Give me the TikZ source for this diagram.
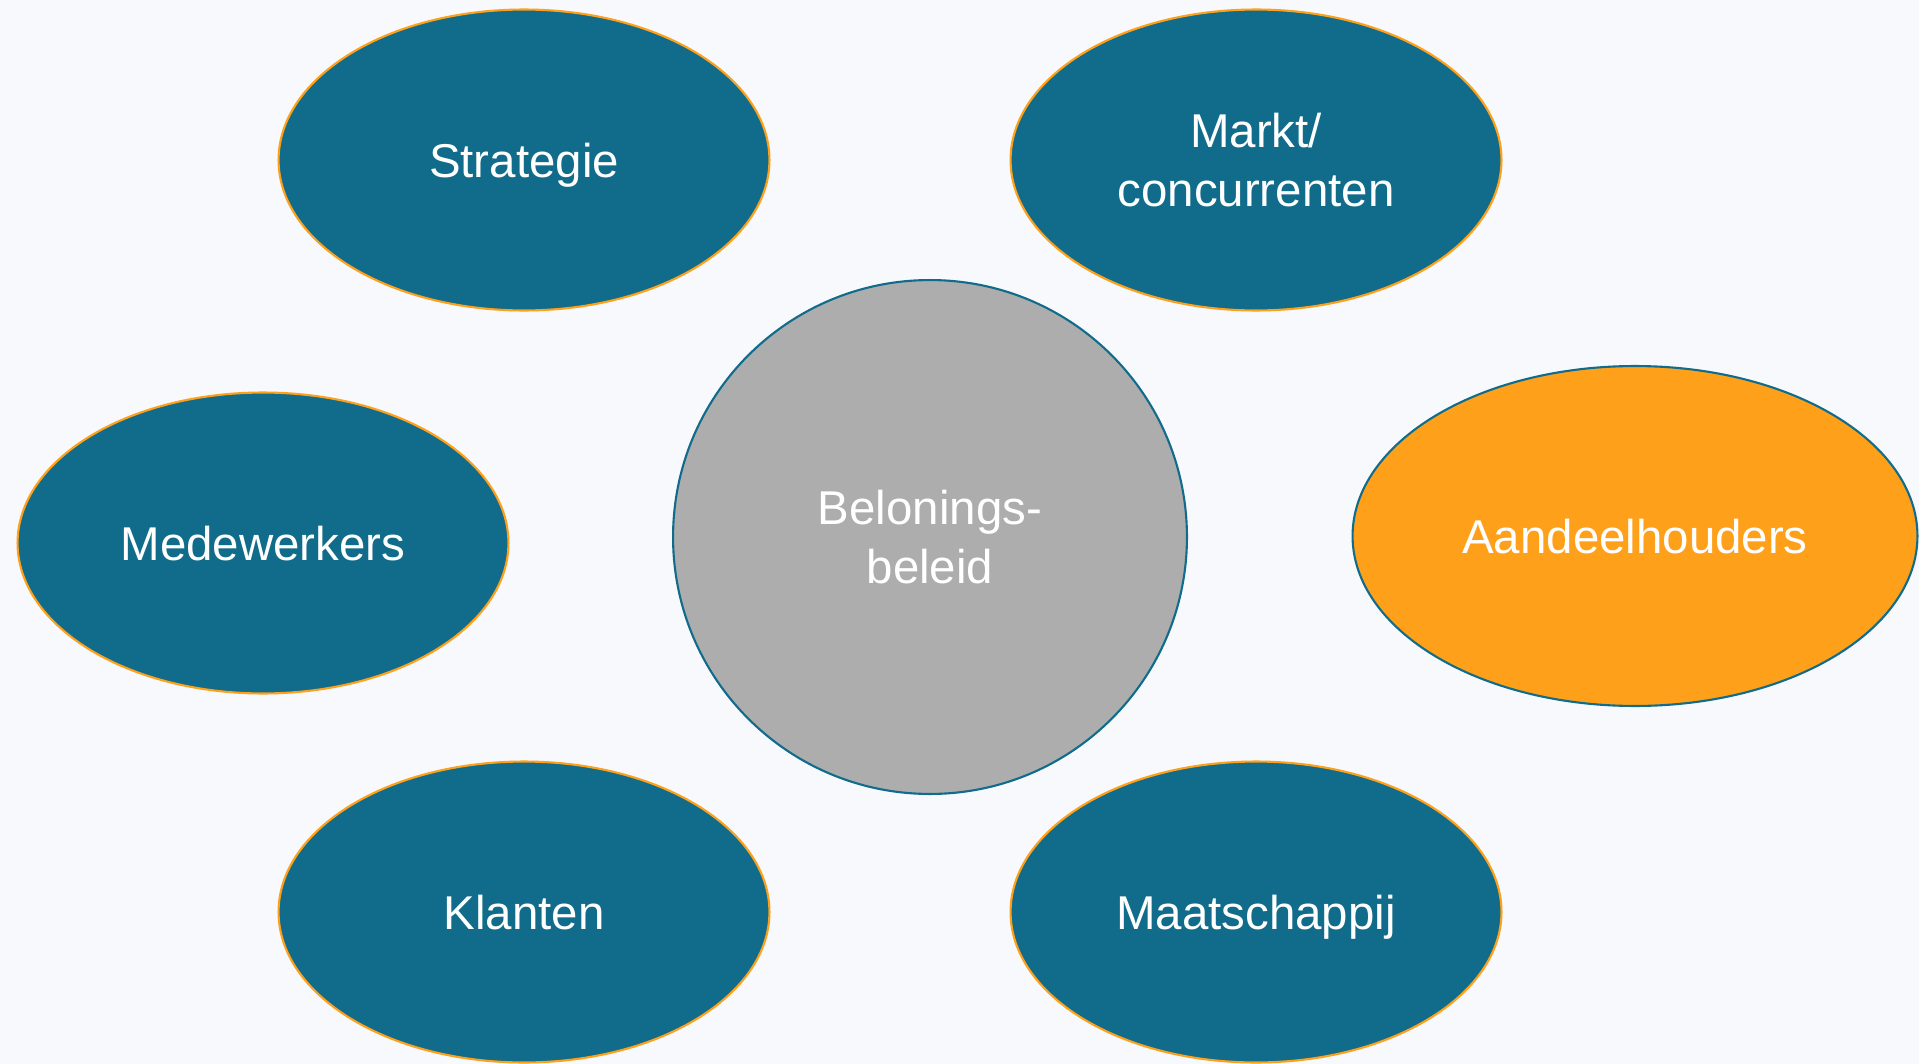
\documentclass[tikz,border=0pt]{standalone}
\usepackage{fontspec}
\setmainfont{Liberation Sans}
\usetikzlibrary{shapes.geometric}
\definecolor{bgblue}{HTML}{F7F9FC}
\definecolor{teal}{HTML}{106C8A}
\definecolor{oranje}{HTML}{FFA01A}
\definecolor{grijs}{HTML}{ADADAD}
\begin{document}
\begin{tikzpicture} [x=0.02cm, y=-0.02cm,
  ovaal/.style={ellipse, draw=oranje, line width=1.2pt, fill=teal, text=white,
    minimum width=9.82cm, minimum height=6.02cm, inner sep=0, align=center,
    font=\fontsize{27}{33.5}\selectfont},
  eenregel/.style={text height=19.4pt, text depth=0pt},
  kern/.style={circle, draw=teal, line width=1.2pt, fill=grijs, text=white,
    minimum size=10.28cm, inner sep=0, align=center,
    font=\fontsize{27}{33.5}\selectfont}]
\fill[bgblue] (0,0) rectangle (1919,1064);
\useasboundingbox (0,0) rectangle (1919,1064);
\node[kern] (beleid) at (930,537) {Belonings-\\beleid};
\node[ovaal, eenregel] (strat) at (524,160) {Strategie};
\node[ovaal] (markt) at (1256,160) {Markt/\\concurrenten};
\node[ovaal, eenregel] (medew) at (263,543) {Medewerkers};
\node[ovaal, eenregel, fill=oranje, draw=teal, minimum width=11.3cm, minimum height=6.8cm] (aandeel) at (1635,536) {Aandeelhouders};
\node[ovaal, eenregel] (klant) at (524,912) {Klanten};
\node[ovaal, eenregel] (maatsch) at (1256,912) {Maatschappij};
\end{tikzpicture}
\end{document}
